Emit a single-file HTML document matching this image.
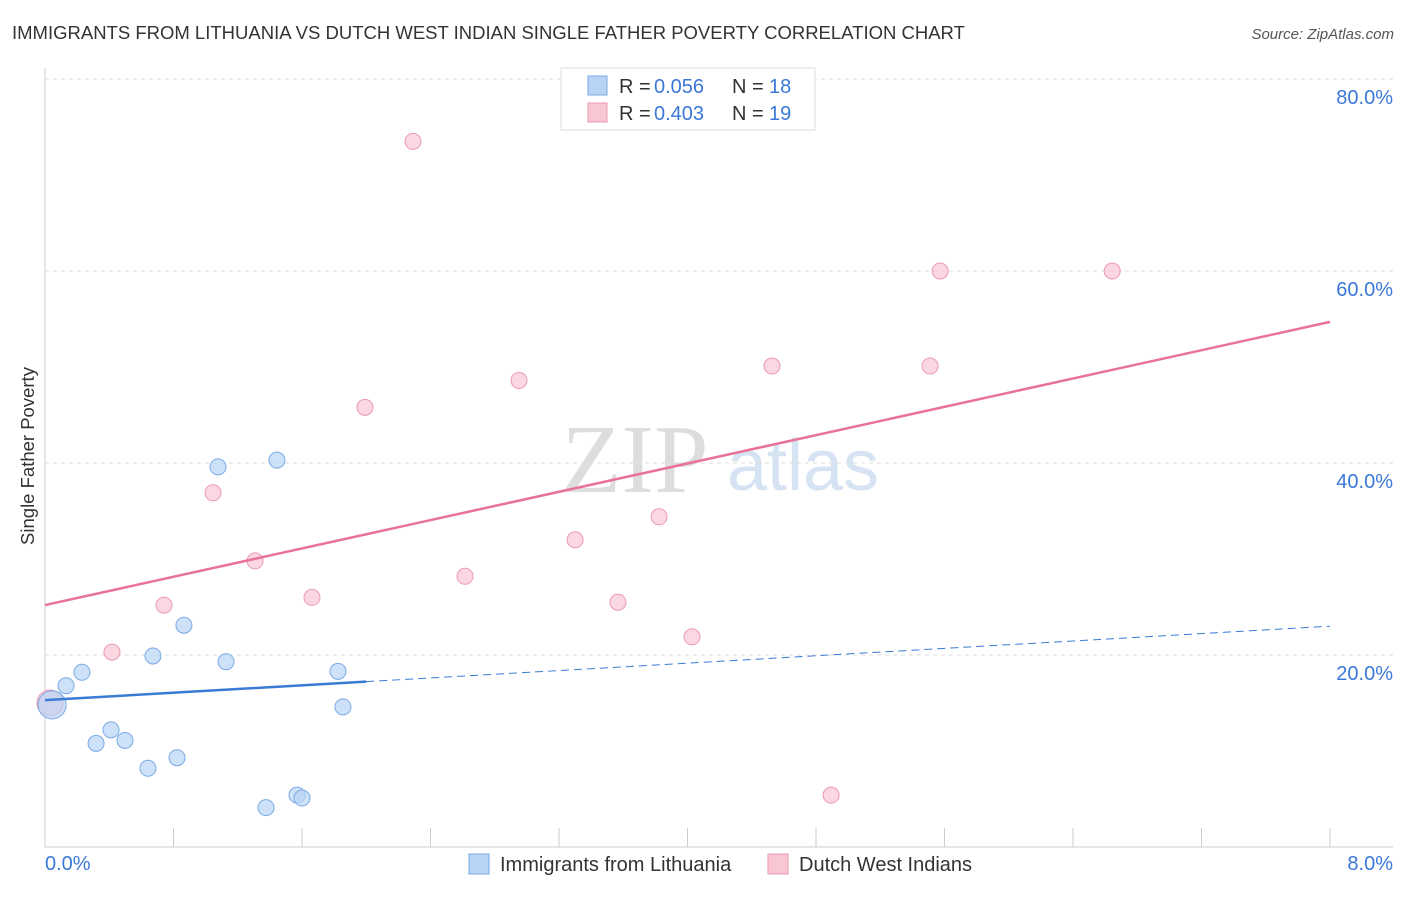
<!DOCTYPE html>
<html><head><meta charset="utf-8"><style>
body{margin:0;background:#fff;font-family:"Liberation Sans",sans-serif;}
</style></head><body>
<svg width="1406" height="892" xmlns="http://www.w3.org/2000/svg" font-family="Liberation Sans, sans-serif">
<text x="12" y="39" font-size="18.5" fill="#333">IMMIGRANTS FROM LITHUANIA VS DUTCH WEST INDIAN SINGLE FATHER POVERTY CORRELATION CHART</text>
<text x="1394" y="39" font-size="15" fill="#555" font-style="italic" text-anchor="end">Source: ZipAtlas.com</text>
<text x="635" y="492" font-size="98" fill="#ddd" font-family="Liberation Serif, serif" text-anchor="middle">ZIP</text>
<text x="803" y="490" font-size="72" fill="#d6e3f3" text-anchor="middle">atlas</text>
<g id="grid"></g><g id="axes"></g><g id="marks"></g>
<text x="34" y="456" font-size="18.5" fill="#333" transform="rotate(-90 34 456)" text-anchor="middle">Single Father Poverty</text>
<g font-size="20">
<rect x="561" y="68" width="254" height="62" fill="#fff" stroke="#ddd"/>
<rect x="588" y="76" width="19" height="19" fill="#b8d4f5" stroke="#7aaae6"/>
<rect x="588" y="103" width="19" height="19" fill="#f9c6d4" stroke="#eb9ab2"/>
<text x="619" y="93" fill="#333">R =</text><text x="654" y="93" fill="#3b78d8">0.056</text>
<text x="732" y="93" fill="#333">N =</text><text x="769" y="93" fill="#3b78d8">18</text>
<text x="619" y="120" fill="#333">R =</text><text x="654" y="120" fill="#3b78d8">0.403</text>
<text x="732" y="120" fill="#333">N =</text><text x="769" y="120" fill="#3b78d8">19</text>
</g>
<g>
<rect x="469" y="854" width="20" height="20" fill="#b8d4f5" stroke="#7aaae6"/>
<text x="500" y="871" font-size="20" fill="#333">Immigrants from Lithuania</text>
<rect x="768" y="854" width="20" height="20" fill="#f9c6d4" stroke="#eb9ab2"/>
<text x="799" y="871" font-size="20" fill="#333">Dutch West Indians</text>
</g>
</svg>
<script>
const yTicks=[20,40,60,80];
const xTickLabels=["0.0%","8.0%"];
const blueX=[0.044,0.131,0.230,0.318,0.411,0.498,0.641,0.672,0.822,0.865,1.077,1.127,1.376,1.444,1.569,1.600,1.824,1.855];
const blueY=[14.8,16.8,18.2,10.8,12.2,11.1,8.2,19.9,9.3,23.1,39.6,19.3,4.1,40.3,5.4,5.1,18.3,14.6];
const pinkX=[0.031,0.417,0.741,1.046,1.308,1.662,1.992,2.291,2.615,2.951,3.300,3.567,3.823,4.028,4.526,4.894,5.510,5.573,6.644];
const pinkY=[15.0,20.3,25.2,36.9,29.8,26.0,45.8,73.5,28.2,48.6,32.0,25.5,34.4,21.9,50.1,5.4,50.1,60.0,60.0];
const pinkTrend=[25.2,54.7];
const blueTrend=[15.3,23.0];
const blueSolidEnd=2.0;
const NS="http://www.w3.org/2000/svg";
const X=v=>45+v/8*1285, Y=v=>847-v*9.6;
function mk(p,t,a){const e=document.createElementNS(NS,t);for(const k in a)e.setAttribute(k,a[k]);p.appendChild(e);return e;}
const grid=document.getElementById('grid'),axes=document.getElementById('axes'),marks=document.getElementById('marks');
yTicks.forEach(t=>{
 const l=mk(grid,'line',{x1:45,x2:1393,y1:Y(t),y2:Y(t),stroke:'#ddd','stroke-dasharray':'4,4'});
 
 
 const tx=mk(grid,'text',{x:1393,y:Y(t)+25,'font-size':20,fill:'#3b78d8','text-anchor':'end'});
 tx.textContent=t.toFixed(1)+'%';
 
 
});
mk(axes,'line',{x1:45,x2:45,y1:68,y2:847,stroke:'#ccc'});
mk(axes,'line',{x1:45,x2:1393,y1:847,y2:847,stroke:'#ccc'});
for(let i=0;i<=10;i++){mk(axes,'line',{x1:X(i*0.8),x2:X(i*0.8),y1:828,y2:847,stroke:'#ccc'});}
const xl0=mk(axes,'text',{x:45,y:870,'font-size':20,fill:'#3b78d8'});xl0.textContent=xTickLabels[0];


const xl1=mk(axes,'text',{x:1393,y:870,'font-size':20,fill:'#3b78d8','text-anchor':'end'});xl1.textContent=xTickLabels[1];


pinkX.forEach((x,i)=>{const c=mk(marks,'circle',{cx:X(x),cy:Y(pinkY[i]),r:i==0?13:8,fill:'#f9c6d4','fill-opacity':0.7,stroke:'#eb9ab2'});
 
 });
blueX.forEach((x,i)=>{const c=mk(marks,'circle',{cx:X(x),cy:Y(blueY[i]),r:i==0?14:8,fill:'#b8d4f5','fill-opacity':0.7,stroke:'#7aaae6'});
 
 });
const pt=mk(marks,'line',{x1:X(0),y1:Y(pinkTrend[0]),x2:X(8),y2:Y(pinkTrend[1]),stroke:'#e8729a','stroke-width':2.5});


const by=v=>blueTrend[0]+(blueTrend[1]-blueTrend[0])*v/8;
const bs=mk(marks,'line',{x1:X(0),y1:Y(by(0)),x2:X(blueSolidEnd),y2:Y(by(blueSolidEnd)),stroke:'#3a7bd5','stroke-width':2.5});


const bd=mk(marks,'line',{x1:X(blueSolidEnd),y1:Y(by(blueSolidEnd)),x2:X(8),y2:Y(by(8)),stroke:'#3a7bd5','stroke-width':1,'stroke-dasharray':'8,5'});


</script>
</body></html>
